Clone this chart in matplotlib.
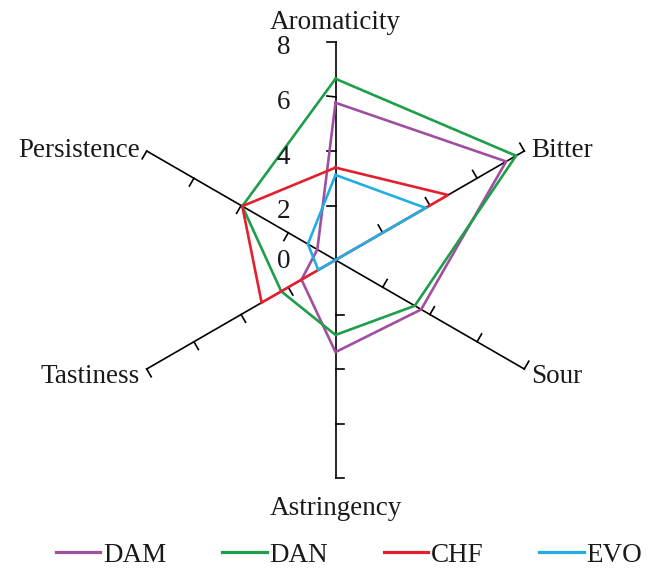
import numpy as np
import matplotlib
matplotlib.use("Agg")
import matplotlib.pyplot as plt

plt.rcParams['font.family'] = ['Liberation Serif', 'DejaVu Serif']

categories = ["Aromaticity", "Bitter", "Sour", "Astringency", "Tastiness", "Persistence"]
series_names = ["DAM", "DAN", "CHF", "EVO"]
dam = [5.77, 7.23, 3.63, 3.38, 1.44, 0.77]
dan = [6.65, 7.65, 3.36, 2.75, 2.30, 3.95]
chf = [3.39, 4.77, 0.0, 0.0, 3.13, 3.95]
evo = [3.12, 3.82, 0.0, 0.0, 0.73, 1.17]
tick_values = [0, 2, 4, 6, 8]
colors = ["#A04FA0", "#1E9E4A", "#E2202E", "#21AEE3"]

rmax = 8
W, H, DPI = 659, 571, 100
fig = plt.figure(figsize=(W / DPI, H / DPI), dpi=DPI)
cx, cy, rpx = 335.5, 260.0, 218
ax = fig.add_axes([(cx - rpx) / W, (H - cy - rpx) / H, 2 * rpx / W, 2 * rpx / H],
                  projection='polar')
ax.set_ylim(0, rmax)
ax.grid(False)
ax.spines['polar'].set_visible(False)
ax.set_xticks([])
ax.set_yticks([])
ax.patch.set_visible(False)

n = len(categories)
phis = np.deg2rad(90 - 60 * np.arange(n))

# axes and ticks
tick_len = 0.33
for phi in phis:
    ax.plot([phi, phi], [0, rmax], color='black', lw=1.2, clip_on=False, zorder=2)
    for r in tick_values[1:]:
        p = r * np.array([np.cos(phi), np.sin(phi)])
        q = p + tick_len * np.array([-np.sin(phi), np.cos(phi)])
        ax.plot([phi, np.arctan2(q[1], q[0])], [r, np.hypot(*q)],
                color='black', lw=1.2, clip_on=False, zorder=2)

# data
for name, vals, col in zip(series_names, [dam, dan, chf, evo], colors):
    th = np.append(phis, phis[0])
    rr = np.append(vals, vals[0])
    ax.plot(th, rr, color=col, lw=1.9, clip_on=False, zorder=3, label=name,
            solid_joinstyle='miter')

# category labels
fs = 19.5
tc = '#1a1a1a'
label_specs = {
    0: (8.86, 'center', 'center'),
    1: (8.3, 'left', 'center'),
    2: (8.3, 'left', 'center'),
    3: (9.0, 'center', 'center'),
    4: (8.3, 'right', 'center'),
    5: (8.3, 'right', 'center'),
}
for i, cat in enumerate(categories):
    r, ha, va = label_specs[i]
    ax.annotate(cat, xy=(phis[i], r), xytext=(0, -3.5), textcoords='offset pixels',
                ha=ha, va=va, fontsize=fs, color=tc, annotation_clip=False)

# tick labels on Aromaticity axis
for v in tick_values:
    ax.annotate(str(v), xy=(phis[0], v), xytext=(-52, -6 if v > 0 else -2),
                textcoords='offset pixels', ha='center', va='center',
                fontsize=fs, color=tc, annotation_clip=False)

leg = fig.legend(loc='center', bbox_to_anchor=(349 / W, 16 / H), ncol=4,
                 frameon=False, fontsize=fs, handlelength=1.65, handletextpad=0.1,
                 columnspacing=2.05, borderpad=0, borderaxespad=0)
for line in leg.get_lines():
    line.set_linewidth(2.3)
for t in leg.get_texts():
    t.set_color(tc)

fig.savefig("out.png", dpi=DPI)
